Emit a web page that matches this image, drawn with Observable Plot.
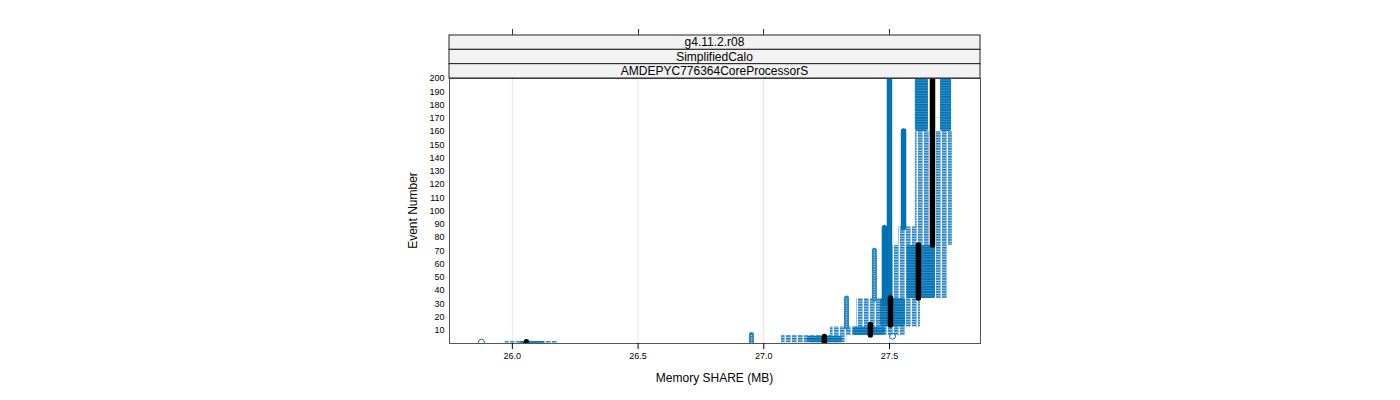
<!DOCTYPE html>
<html><head><meta charset="utf-8">
<script src="https://cdn.jsdelivr.net/npm/d3@7"></script>
<script src="https://cdn.jsdelivr.net/npm/@observablehq/plot@0.6"></script>
<style>body{margin:0;background:#fff}</style>
</head><body><div id="chart"></div>
<script>
// ---- data ----
const stripLabels = ["g4.11.2.r08", "SimplifiedCalo", "AMDEPYC776364CoreProcessorS"];
const xTicks = [26.0, 26.5, 27.0, 27.5];
const yTicks = [10, 20, 30, 40, 50, 60, 70, 80, 90, 100, 110, 120, 130, 140, 150, 160, 170, 180, 190, 200];
const xLabel = "Memory SHARE (MB)";
const yLabel = "Event Number";

// sparse clouds of runs: memory range x event range
const lightBands = [
  {x1: 25.972, x2: 26.183, e1: 0,    e2: 1.5},
  {x1: 27.070, x2: 27.330, e1: 0.5,  e2: 6},
  {x1: 27.265, x2: 27.564, e1: 6,    e2: 12.5},
  {x1: 27.369, x2: 27.623, e1: 12.5, e2: 34},
  {x1: 27.504, x2: 27.735, e1: 34,   e2: 74},
  {x1: 27.536, x2: 27.603, e1: 74,   e2: 88},
  {x1: 27.603, x2: 27.750, e1: 74,   e2: 160}
];
// dense clouds of runs
const denseBands = [
  {x1: 26.030, x2: 26.130, e1: 0,    e2: 1.5},
  {x1: 27.174, x2: 27.313, e1: 0.5,  e2: 5.5},
  {x1: 27.357, x2: 27.484, e1: 6,    e2: 12.5},
  {x1: 27.464, x2: 27.564, e1: 12.5, e2: 34},
  {x1: 27.570, x2: 27.683, e1: 34,   e2: 74},
  {x1: 27.603, x2: 27.655, e1: 160,  e2: 200},
  {x1: 27.703, x2: 27.747, e1: 160,  e2: 200}
];
// single runs staying on one memory value
const columns = [
  {x: 26.951, e1: 0,  e2: 6.5, solid: false},
  {x: 27.329, e1: 12, e2: 34,  solid: false},
  {x: 27.440, e1: 33, e2: 70,  solid: false},
  {x: 27.480, e1: 30, e2: 87,  solid: true},
  {x: 27.488, e1: 30, e2: 82,  solid: true},
  {x: 27.500, e1: 33, e2: 200, solid: true},
  {x: 27.556, e1: 87, e2: 160, solid: true}
];
// reference run (black)
const refSteps = [
  {x: 26.056, e1: 0,    e2: 1},
  {x: 27.241, e1: 0.5,  e2: 5},
  {x: 27.424, e1: 6,    e2: 14},
  {x: 27.504, e1: 13.5, e2: 34},
  {x: 27.615, e1: 34,   e2: 74},
  {x: 27.671, e1: 74,   e2: 200}
];
// isolated points
const singlePoints = [
  {x: 25.877, e: 1},
  {x: 27.512, e: 5.5}
];

const BLUE = "#0072B2";
const chartPlot = Plot.plot({
  width: 1400, height: 400,
  marginLeft: 449, marginRight: 420, marginTop: 78, marginBottom: 57,
  style: {fontFamily: "Liberation Sans, Arial, sans-serif", fontSize: "9px", background: "#fff"},
  x: {domain: [25.75, 27.862], ticks: xTicks, tickFormat: d3.format(".1f"), label: null},
  y: {domain: [0, 200], ticks: yTicks, label: null},
  marks: [
    Plot.ruleX(xTicks, {stroke: "#e6e6e6", strokeWidth: 1}),
    Plot.rect(lightBands, {x1: "x1", x2: "x2", y1: "e1", y2: "e2", fill: "url(#lightPat)", clip: true}),
    Plot.rect(denseBands, {x1: "x1", x2: "x2", y1: "e1", y2: "e2", fill: "url(#densePat)", rx: 2, clip: true}),
    Plot.ruleX(columns.filter(d => !d.solid), {x: "x", y1: "e1", y2: "e2", stroke: "#2a84c2", strokeWidth: 5, strokeLinecap: "round", clip: true}),
    Plot.ruleX(columns.filter(d => !d.solid), {x: "x", y1: "e1", y2: "e2", stroke: "#9cc8e6", strokeWidth: 1.5, strokeDasharray: "1,1.3", clip: true}),
    Plot.ruleX(columns.filter(d => d.solid), {x: "x", y1: "e1", y2: "e2", stroke: BLUE, strokeWidth: 5.5, strokeLinecap: "round", clip: true}),
    Plot.dot(singlePoints, {x: "x", y: "e", r: 3, stroke: BLUE, fill: "none", strokeWidth: 1, clip: true}),
    Plot.ruleX(refSteps, {x: "x", y1: "e1", y2: "e2", stroke: "#000", strokeWidth: 5.5, strokeLinecap: "round", clip: true}),
    Plot.frame({stroke: "#555"}),
    Plot.axisX({ticks: xTicks, tickFormat: d3.format(".1f"), tickSize: 6, tickPadding: 3, label: null, fontSize: 9}),
    Plot.axisY({ticks: yTicks, tickSize: 0, tickPadding: 5, label: null, fontSize: 9})
  ]
});

const svgSel = d3.select(chartPlot);
const defs = svgSel.insert("defs", ":first-child");
const lp = defs.append("pattern").attr("id", "lightPat").attr("patternUnits", "userSpaceOnUse")
  .attr("width", 6).attr("height", 2.6);
lp.append("rect").attr("x", 0).attr("y", 0).attr("width", 4.6).attr("height", 1.6).attr("fill", "#1a7dbd");
lp.append("rect").attr("x", 0).attr("y", 1.6).attr("width", 4.6).attr("height", 1.0).attr("fill", "#a3cde9");
const dp = defs.append("pattern").attr("id", "densePat").attr("patternUnits", "userSpaceOnUse")
  .attr("width", 6).attr("height", 2.6);
dp.append("rect").attr("x", 0).attr("y", 0).attr("width", 6).attr("height", 1.7).attr("fill", BLUE);
dp.append("rect").attr("x", 0).attr("y", 1.7).attr("width", 6).attr("height", 0.9).attr("fill", "#3b90c8");

const xs = chartPlot.scale("x");
const panelLeft = 449, panelRight = 980, stripTop = 35, stripH = 43 / 3;
const deco = svgSel.append("g");
// top ticks above strips
xTicks.forEach(t => {
  const px = Math.round(xs.apply(t)) + 0.5;
  deco.append("line").attr("x1", px).attr("x2", px).attr("y1", 29).attr("y2", stripTop).attr("stroke", "#333");
});
// strips
stripLabels.forEach((lab, i) => {
  const y0 = stripTop + i * stripH;
  deco.append("rect").attr("x", panelLeft).attr("y", y0).attr("width", panelRight - panelLeft).attr("height", stripH)
    .attr("fill", "#f2f2f2").attr("stroke", "#222").attr("stroke-width", 1);
  deco.append("text").attr("x", (panelLeft + panelRight) / 2).attr("y", y0 + stripH / 2 + 4.3)
    .attr("text-anchor", "middle").attr("font-size", 12).attr("fill", "#000").text(lab);
});
// axis titles
deco.append("text").attr("x", (panelLeft + panelRight) / 2).attr("y", 382).attr("text-anchor", "middle")
  .attr("font-size", 12).attr("fill", "#000").text(xLabel);
deco.append("text").attr("transform", `translate(417,${(78 + 343) / 2}) rotate(-90)`).attr("text-anchor", "middle")
  .attr("font-size", 12).attr("fill", "#000").text(yLabel);

document.getElementById("chart").appendChild(chartPlot);
</script>
</body></html>
